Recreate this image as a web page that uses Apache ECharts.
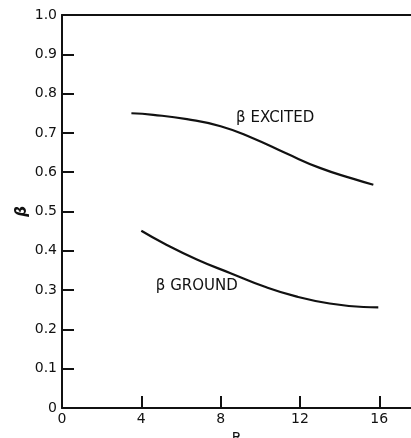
<!DOCTYPE html>
<html><head><meta charset="utf-8">
<script src="https://cdn.jsdelivr.net/npm/echarts@6/dist/echarts.min.js"></script>
<style>html,body{margin:0;padding:0;background:#fff}#c{width:411px;height:438px}</style>
</head><body><div id="c"></div>
<script>
var excitedX = [3.5, 4.6, 6.3, 8.0, 9.6, 11.3, 13.0, 14.7, 15.7];
var excitedY = [0.750, 0.746, 0.735, 0.717, 0.687, 0.648, 0.611, 0.583, 0.568];
var groundX = [4.0, 5.1, 6.8, 8.5, 10.2, 11.8, 13.5, 15.2, 15.95];
var groundY = [0.451, 0.420, 0.378, 0.343, 0.309, 0.284, 0.266, 0.257, 0.256];
var xTickLabels = [0, 4, 8, 12, 16];
var yTickLabels = ['0', '0.1', '0.2', '0.3', '0.4', '0.5', '0.6', '0.7', '0.8', '0.9', '1.0'];
var labelExcited = {text: 'β EXCITED', x: 10.75, y: 0.738};
var labelGround = {text: 'β GROUND', x: 6.8, y: 0.31};

function pairs(xs, ys) { return xs.map(function (x, i) { return [x, ys[i]]; }); }

var font = 'DejaVu Sans';
var chart = echarts.init(document.getElementById('c'), null, {renderer: 'canvas'});
chart.setOption({
  animation: false,
  backgroundColor: '#fff',
  grid: {left: 62, right: 0, top: 15, bottom: 30, containLabel: false, outerBoundsMode: 'none'},
  xAxis: [{
    type: 'value', min: 0, max: 17.6,
    name: 'R', nameLocation: 'middle', nameGap: 21,
    nameTextStyle: {color: '#111', fontFamily: font, fontSize: 14},
    axisLine: {show: true, onZero: false, lineStyle: {color: '#111', width: 2}},
    axisTick: {show: true, inside: true, length: 12, customValues: [4, 8, 12, 16], lineStyle: {color: '#111', width: 2}},
    axisLabel: {customValues: xTickLabels, color: '#111', fontFamily: font, fontSize: 14, margin: 4},
    splitLine: {show: false}
  }, {
    type: 'value', min: 0, max: 17.6, position: 'top',
    axisLine: {show: true, onZero: false, lineStyle: {color: '#111', width: 2}},
    axisTick: {show: false}, axisLabel: {show: false}, splitLine: {show: false}
  }],
  yAxis: {
    type: 'value', min: 0, max: 1, interval: 0.1,
    name: 'β', nameLocation: 'middle', nameGap: 32, nameRotate: 90, nameMoveOverlap: false,
    nameTextStyle: {color: '#111', fontFamily: font, fontSize: 15, fontStyle: 'italic', fontWeight: 'bold'},
    axisLine: {show: true, onZero: false, lineStyle: {color: '#111', width: 2}},
    axisTick: {show: true, inside: true, length: 12, lineStyle: {color: '#111', width: 2}},
    axisLabel: {color: '#111', fontFamily: font, fontSize: 14, margin: 5,
      formatter: function (v) { return yTickLabels[Math.round(v * 10)]; }},
    splitLine: {show: false}
  },
  series: [{
    type: 'line', data: pairs(excitedX, excitedY), smooth: true, symbol: 'none',
    lineStyle: {color: '#111', width: 2.2},
    markPoint: {symbol: 'circle', symbolSize: 0, data: [{coord: [labelExcited.x, labelExcited.y],
      label: {show: true, position: 'inside', formatter: labelExcited.text, color: '#111', fontFamily: font, fontSize: 15}}]}
  }, {
    type: 'line', data: pairs(groundX, groundY), smooth: true, symbol: 'none',
    lineStyle: {color: '#111', width: 2.2},
    markPoint: {symbol: 'circle', symbolSize: 0, data: [{coord: [labelGround.x, labelGround.y],
      label: {show: true, position: 'inside', formatter: labelGround.text, color: '#111', fontFamily: font, fontSize: 15}}]}
  }]
});
</script></body></html>
